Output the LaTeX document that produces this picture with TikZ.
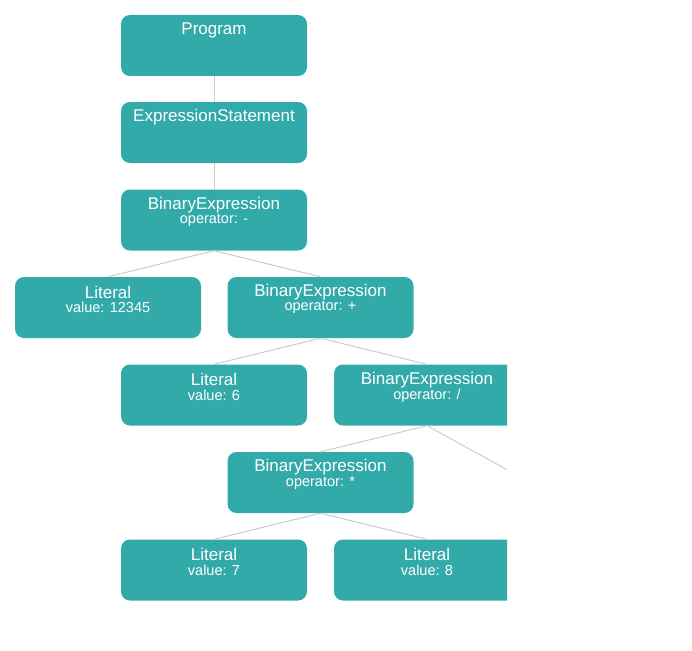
\documentclass[tikz,border=0pt]{standalone}
\usepackage{fontspec}
\setmainfont{Liberation Sans}
\definecolor{teal1}{HTML}{33AAAA}
\definecolor{edgec}{HTML}{CCCCCC}
\begin{document}
\begin{tikzpicture}[x=1pt,y=-1pt,
  box/.style={draw=none,fill=teal1,rounded corners=9pt,minimum width=186pt,minimum height=61pt,inner sep=0pt},
  ttl/.style={text=white,font=\fontsize{17}{19}\selectfont,inner sep=0pt,anchor=center},
  sub/.style={text=white,font=\fontsize{14.5}{16}\selectfont,inner sep=0pt,anchor=center},
  edge/.style={draw=edgec,line width=1pt}]
\useasboundingbox (0,0) rectangle (692,650);
\begin{scope}
\clip (0,0) rectangle (507,650);
\node[box] (prog) at (214,45.5) {};
\node[box] (es) at (214,132.5) {};
\node[box] (be1) at (214,220) {};
\node[box] (lit1) at (108,307.5) {};
\node[box] (be2) at (320.5,307.5) {};
\node[box] (lit6) at (214,395) {};
\node[box] (be3) at (427,395) {};
\node[box] (be4) at (320.5,482.5) {};
\node[box] (lit7) at (214,570) {};
\node[box] (lit8) at (427,570) {};
\coordinate (hid) at (533,484);
\draw[edge] (prog.south) -- (es.north);
\draw[edge] (es.south) -- (be1.north);
\draw[edge] (be1.south) -- (lit1.north);
\draw[edge] (be1.south) -- (be2.north);
\draw[edge] (be2.south) -- (lit6.north);
\draw[edge] (be2.south) -- (be3.north);
\draw[edge] (be3.south) -- (be4.north);
\draw[edge] (be3.south) -- (hid);
\draw[edge] (be4.south) -- (lit7.north);
\draw[edge] (be4.south) -- (lit8.north);
\end{scope}
\node[ttl] (progt) at ([yshift=-15.5pt]prog.north) {Program};
\node[ttl] (est) at ([yshift=-15.5pt]es.north) {ExpressionStatement};
\node[ttl] (be1t) at ([yshift=-15.5pt]be1.north) {BinaryExpression};
\node[sub] (be1s) at ([yshift=-31pt]be1.north) {operator: -};
\node[ttl] (lit1t) at ([yshift=-15.5pt]lit1.north) {Literal};
\node[sub] (lit1s) at ([yshift=-31pt]lit1.north) {value: 12345};
\node[ttl] (be2t) at ([yshift=-15.5pt]be2.north) {BinaryExpression};
\node[sub] (be2s) at ([yshift=-31pt]be2.north) {operator: +};
\node[ttl] (lit6t) at ([yshift=-15.5pt]lit6.north) {Literal};
\node[sub] (lit6s) at ([yshift=-31pt]lit6.north) {value: 6};
\node[ttl] (be3t) at ([yshift=-15.5pt]be3.north) {BinaryExpression};
\node[sub] (be3s) at ([yshift=-31pt]be3.north) {operator: /};
\node[ttl] (be4t) at ([yshift=-15.5pt]be4.north) {BinaryExpression};
\node[sub] (be4s) at ([yshift=-31pt]be4.north) {operator: *};
\node[ttl] (lit7t) at ([yshift=-15.5pt]lit7.north) {Literal};
\node[sub] (lit7s) at ([yshift=-31pt]lit7.north) {value: 7};
\node[ttl] (lit8t) at ([yshift=-15.5pt]lit8.north) {Literal};
\node[sub] (lit8s) at ([yshift=-31pt]lit8.north) {value: 8};
\end{tikzpicture}
\end{document}
